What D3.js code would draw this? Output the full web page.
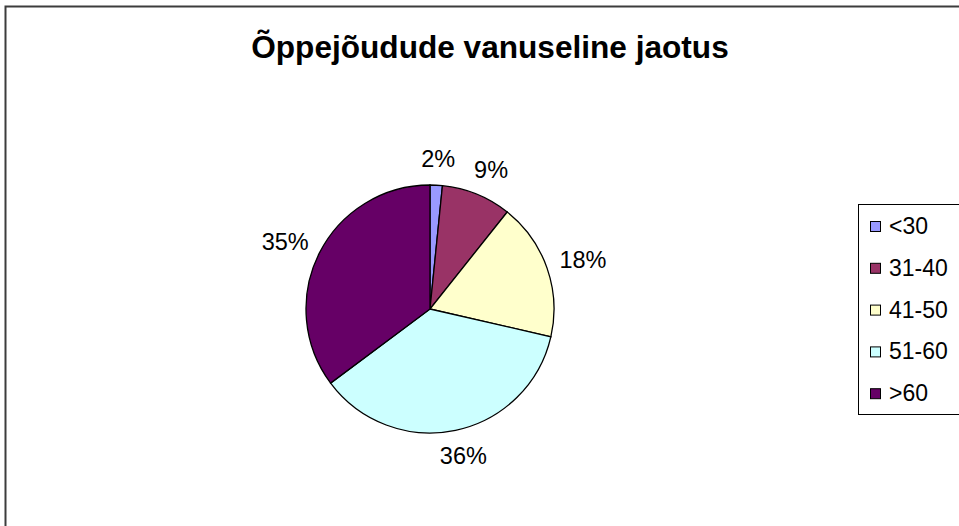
<!DOCTYPE html>
<html>
<head>
<meta charset="utf-8">
<script src="https://cdn.jsdelivr.net/npm/d3@7"></script>
<style>
  body { margin: 0; background: #fff; }
  svg { display: block; font-family: "Liberation Sans", Arial, sans-serif; }
</style>
</head>
<body>
<div id="chart"></div>
<script>
// Age groups and their shares (percent)
var categories = ["<30", "31-40", "41-50", "51-60", ">60"];
var values = [1.6, 9.1, 17.9, 36.2, 35.2];
var colors = ["#9999FF", "#993366", "#FFFFCC", "#CCFFFF", "#660066"];
var title = "Õppejõudude vanuseline jaotus";

var width = 959, height = 526;
var cx = 430, cy = 309, radius = 124;

var svg = d3.select("#chart").append("svg")
    .attr("width", width)
    .attr("height", height);

// Chart frame (runs off the right and bottom edges)
svg.append("rect")
    .attr("x", 5.5)
    .attr("y", 6.5)
    .attr("width", 1000)
    .attr("height", 1000)
    .attr("fill", "none")
    .attr("stroke", "#3c3c3c")
    .attr("stroke-width", 2);

svg.append("text")
    .attr("x", 490)
    .attr("y", 58)
    .attr("text-anchor", "middle")
    .attr("font-size", 31.6)
    .attr("font-weight", "bold")
    .text(title);

var data = categories.map(function (c, i) {
    return { name: c, value: values[i], color: colors[i] };
});

var pie = d3.pie()
    .sort(null)
    .value(function (d) { return d.value; });

var arc = d3.arc()
    .innerRadius(0)
    .outerRadius(radius);

var labelR = radius + 26;

var g = svg.append("g")
    .attr("transform", "translate(" + cx + "," + cy + ")");

var arcs = pie(data);

g.selectAll("path")
    .data(arcs)
    .enter().append("path")
    .attr("d", arc)
    .attr("fill", function (d) { return d.data.color; })
    .attr("stroke", "#000")
    .attr("stroke-width", 1.3);

// Percent labels sit outside the pie, pushed sideways a bit like Excel does
g.selectAll("text.pct")
    .data(arcs)
    .enter().append("text")
    .attr("class", "pct")
    .attr("transform", function (d) {
        var a = (d.startAngle + d.endAngle) / 2;
        var x = Math.sin(a) * (labelR + 12);
        var y = -Math.cos(a) * labelR;
        return "translate(" + x + "," + y + ")";
    })
    .attr("text-anchor", "middle")
    .attr("dy", "0.35em")
    .attr("font-size", 23.5)
    .text(function (d) { return Math.round(d.data.value) + "%"; });

// Legend
var legend = svg.append("g")
    .attr("transform", "translate(858,204)");

legend.append("rect")
    .attr("x", 0.5)
    .attr("y", 0.5)
    .attr("width", 200)
    .attr("height", 210)
    .attr("fill", "#fff")
    .attr("stroke", "#000")
    .attr("stroke-width", 1);

var item = legend.selectAll("g.item")
    .data(data)
    .enter().append("g")
    .attr("class", "item")
    .attr("transform", function (d, i) { return "translate(0," + (23 + i * 41.8) + ")"; });

item.append("rect")
    .attr("x", 12.5)
    .attr("y", -5.5)
    .attr("width", 10)
    .attr("height", 10)
    .attr("fill", function (d) { return d.color; })
    .attr("stroke", "#000")
    .attr("stroke-width", 1);

item.append("text")
    .attr("x", 31)
    .attr("y", 0)
    .attr("dy", "0.3em")
    .attr("font-size", 23)
    .text(function (d) { return d.name; });
</script>
</body>
</html>
